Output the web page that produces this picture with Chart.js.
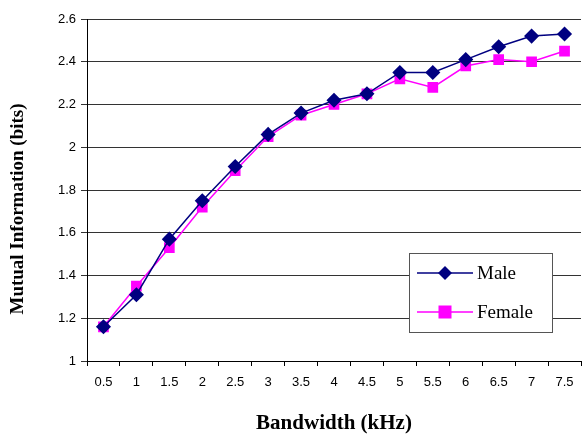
<!DOCTYPE html>
<html>
<head>
<meta charset="utf-8">
<script src="https://cdn.jsdelivr.net/npm/chart.js@4/dist/chart.umd.min.js"></script>
<style>
  html, body { margin: 0; padding: 0; background: #fff; }
  #wrap { width: 582px; height: 436px; }
</style>
</head>
<body>
<div id="wrap"><canvas id="miChart" width="582" height="436"></canvas></div>
<script>
const bandwidths = ['0.5', '1', '1.5', '2', '2.5', '3', '3.5', '4', '4.5', '5', '5.5', '6', '6.5', '7', '7.5'];
const maleValues = [1.16, 1.31, 1.57, 1.75, 1.91, 2.06, 2.16, 2.22, 2.25, 2.35, 2.35, 2.41, 2.47, 2.52, 2.53];
const femaleValues = [1.16, 1.35, 1.53, 1.72, 1.89, 2.05, 2.15, 2.20, 2.25, 2.32, 2.28, 2.38, 2.41, 2.40, 2.45];

const tickFont = { family: '"Liberation Sans", Arial, sans-serif', size: 13 };
const serif = '"Liberation Serif", "Times New Roman", serif';

// legend box drawn inside the plot, like the original
const boxLegend = {
    id: 'boxLegend',
    afterDraw(chart) {
        const { ctx, chartArea } = chart;
        const x = chartArea.right - 172, y = chartArea.bottom - 108;
        const w = 143, h = 79;
        ctx.save();
        ctx.fillStyle = '#fff';
        ctx.fillRect(x, y, w, h);
        ctx.strokeStyle = '#555';
        ctx.lineWidth = 1;
        ctx.strokeRect(x + 0.5, y + 0.5, w, h);
        chart.data.datasets.forEach((ds, i) => {
            const cy = y + 20 + i * 39;
            ctx.strokeStyle = ds.borderColor;
            ctx.lineWidth = 1.5;
            ctx.beginPath();
            ctx.moveTo(x + 8, cy);
            ctx.lineTo(x + 64, cy);
            ctx.stroke();
            ctx.fillStyle = ds.pointBackgroundColor;
            const cx = x + 36;
            if (ds.pointStyle === 'rectRot') {
                ctx.beginPath();
                ctx.moveTo(cx, cy - 7);
                ctx.lineTo(cx + 7, cy);
                ctx.lineTo(cx, cy + 7);
                ctx.lineTo(cx - 7, cy);
                ctx.closePath();
                ctx.fill();
            } else {
                ctx.fillRect(cx - 6.5, cy - 6.5, 13, 13);
            }
            ctx.fillStyle = '#000';
            ctx.font = '19px ' + serif;
            ctx.textBaseline = 'middle';
            ctx.fillText(ds.label, x + 68, cy + 1);
        });
        ctx.restore();
    }
};

const ctx = document.getElementById('miChart').getContext('2d');

new Chart(ctx, {
    type: 'line',
    data: {
        labels: bandwidths,
        datasets: [
            {
                label: 'Male',
                data: maleValues,
                borderColor: '#000080',
                backgroundColor: '#000080',
                pointBackgroundColor: '#000080',
                pointBorderColor: '#000080',
                pointStyle: 'rectRot',
                pointRadius: 6.5,
                borderWidth: 1.5,
                tension: 0
            },
            {
                label: 'Female',
                data: femaleValues,
                borderColor: '#FF00FF',
                backgroundColor: '#FF00FF',
                pointBackgroundColor: '#FF00FF',
                pointBorderColor: '#FF00FF',
                pointStyle: 'rect',
                pointRadius: 6.5,
                borderWidth: 1.5,
                tension: 0
            }
        ]
    },
    options: {
        responsive: false,
        animation: false,
        layout: { autoPadding: false, padding: { top: 19, right: 1, left: 0, bottom: 0 } },
        plugins: {
            legend: { display: false },
            tooltip: { enabled: false }
        },
        scales: {
            x: {
                offset: true,
                grid: {
                    offset: true,
                    drawOnChartArea: false,
                    drawTicks: true,
                    tickLength: 5,
                    color: '#000'
                },
                border: { color: '#000', width: 1 },
                ticks: { color: '#000', font: tickFont, padding: 9, maxRotation: 0, autoSkip: false },
                title: {
                    display: true,
                    text: 'Bandwidth (kHz)',
                    color: '#000',
                    font: { family: serif, size: 21, weight: 'bold' },
                    padding: { top: 20, bottom: 0 }
                },
                afterFit(scale) {
                    scale.height = 75;
                    scale.paddingLeft = 0;
                    scale.paddingRight = 0;
                }
            },
            y: {
                min: 1,
                max: 2.6,
                grid: { color: '#333', tickLength: 6, drawTicks: true },
                border: { color: '#000', width: 1 },
                ticks: {
                    stepSize: 0.2,
                    color: '#000',
                    font: tickFont,
                    padding: 5,
                    callback: v => String(Number(v.toFixed(1)))
                },
                title: {
                    display: true,
                    text: 'Mutual Information (bits)\u2003\u2003',
                    color: '#000',
                    font: { family: serif, size: 19, weight: 'bold' },
                    padding: { top: 7, bottom: 0 }
                },
                afterFit(scale) { scale.width = 87; }
            }
        }
    },
    plugins: [boxLegend]
});
</script>
</body>
</html>
